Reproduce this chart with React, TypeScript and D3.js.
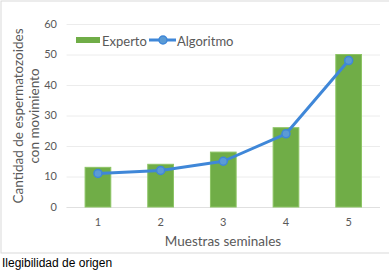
import React from "react";
import * as d3 from "d3";

const categories = ["1", "2", "3", "4", "5"];
const experto = [13, 14, 18, 26, 50];
const algoritmo = [11, 12, 15, 24, 48];
const yTicks = [0, 10, 20, 30, 40, 50, 60];

const W = 389;
const H = 271;
const FONT = "Lato, 'Open Sans', sans-serif";
const TXT = "#595959";

export default function App() {
  const x = d3.scaleBand<string>().domain(categories).range([66.6, 380]).paddingInner(0.59).paddingOuter(0.295);
  const y = d3.scaleLinear().domain([0, 60]).range([207, 24]);
  const cx = (c: string) => (x(c) as number) + x.bandwidth() / 2;
  const line = d3
    .line<number>()
    .x((_, i) => cx(categories[i]))
    .y((d) => y(d));

  return (
    <div style={{ position: "absolute", left: 0, top: 0 }}>
      <svg width={W} height={H} style={{ display: "block", background: "#fff" }}>
        <rect x={1} y={1} width={W + 5} height={252} fill="#fff" stroke="#d9d9d9" strokeWidth={1} />
        {yTicks.map((t) => (
          <g key={t}>
            <line x1={66.6} x2={380} y1={y(t) + 0.5} y2={y(t) + 0.5} stroke="#ececec" strokeWidth={1} />
            <text x={57} y={y(t)} dy="0.35em" textAnchor="end" fontFamily={FONT} fontSize={11} fill={TXT}>
              {t}
            </text>
          </g>
        ))}
        <line x1={66.6} x2={380} y1={y(0) + 0.5} y2={y(0) + 0.5} stroke="#e0e0e0" strokeWidth={1} />
        {categories.map((c, i) => (
          <g key={c}>
            <rect
              x={x(c)}
              y={y(experto[i])}
              width={x.bandwidth()}
              height={y(0) - y(experto[i])}
              fill="#70AD47"
              stroke="#8cc464"
              strokeWidth={1}
            />
            <text x={cx(c)} y={222} dy="0.35em" textAnchor="middle" fontFamily={FONT} fontSize={11} fill={TXT}>
              {c}
            </text>
          </g>
        ))}
        <path d={line(algoritmo) || ""} fill="none" stroke="#3f87d8" strokeWidth={3} strokeLinejoin="round" />
        {algoritmo.map((v, i) => (
          <circle key={i} cx={cx(categories[i])} cy={y(v)} r={4} fill="#5b9bd5" stroke="#3f87d8" strokeWidth={1.5} />
        ))}
        {/* legend */}
        <rect x={76} y={37} width={24} height={6} fill="#70AD47" />
        <text x={102} y={41} dy="0.35em" fontFamily={FONT} fontSize={13} fill={TXT}>
          Experto
        </text>
        <line x1={149} x2={176} y1={40} y2={40} stroke="#3f87d8" strokeWidth={3} />
        <circle cx={163} cy={40} r={4} fill="#5b9bd5" stroke="#3f87d8" strokeWidth={1.5} />
        <text x={177} y={41} dy="0.35em" fontFamily={FONT} fontSize={13} fill={TXT}>
          Algoritmo
        </text>
        {/* axis titles */}
        <text
          transform="translate(18,116) rotate(-90)"
          textAnchor="middle"
          dy="0.35em"
          fontFamily={FONT}
          fontSize={13.5}
          fill={TXT}
        >
          Cantidad de espermatozoides
        </text>
        <text
          transform="translate(34,116) rotate(-90)"
          textAnchor="middle"
          dy="0.35em"
          fontFamily={FONT}
          fontSize={13.5}
          fill={TXT}
        >
          con movimiento
        </text>
        <text x={223} y={241} dy="0.35em" textAnchor="middle" fontFamily={FONT} fontSize={13.5} fill={TXT}>
          Muestras seminales
        </text>
        <text x={2} y={267} fontFamily="'Liberation Sans', Arial, sans-serif" fontSize={12} fill="#000">
          Ilegibilidad de origen
        </text>
      </svg>
    </div>
  );
}
